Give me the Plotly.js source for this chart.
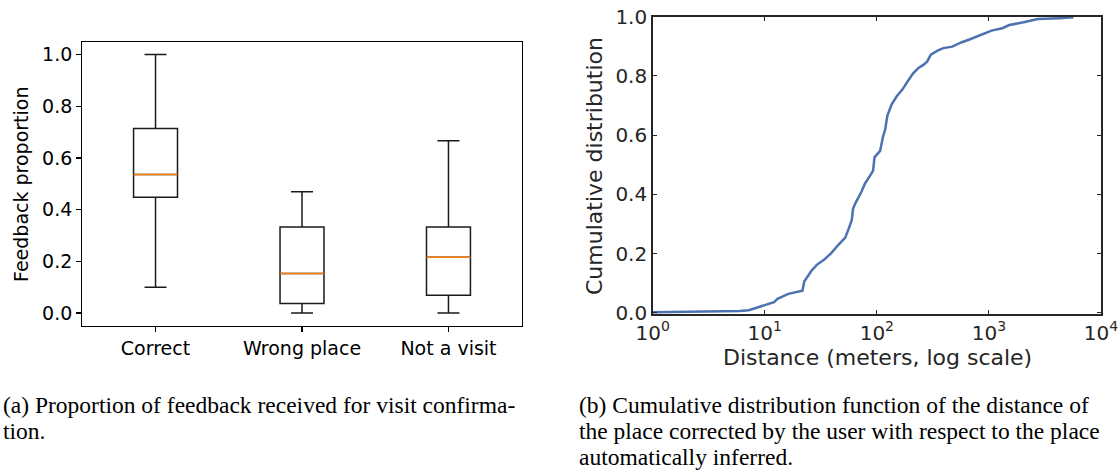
<!DOCTYPE html>
<html>
<head>
<meta charset="utf-8">
<script src="https://cdn.plot.ly/plotly-3.0.1.min.js"></script>
<style>html,body{margin:0;padding:0;background:#fff;}#chart{width:1119px;height:474px;}</style>
</head>
<body>
<div id="chart"></div>
<script>
// ---- Panel (a): box plot data ----
const categories = ['Correct', 'Wrong place', 'Not a visit'];
const lowerWhisker = [0.100, 0.000, 0.000];
const q1 = [0.448, 0.037, 0.069];
const median = [0.536, 0.153, 0.216];
const q3 = [0.714, 0.333, 0.333];
const upperWhisker = [1.000, 0.469, 0.667];
const boxYTicks = [0.0, 0.2, 0.4, 0.6, 0.8, 1.0];

// ---- Panel (b): CDF data ----
const distance = [1.0, 2.5, 4.0, 6.0, 7.2, 8.7, 10, 12.1, 13, 16.2, 21.7, 22.5, 26.1, 29.1, 33.7, 39, 45.2, 52.3, 56.2, 59.7, 61.4, 65.1, 72.7, 78.2, 87.3, 92.6, 95.3, 107, 113, 118.8, 124, 135.6, 151, 169, 188.5, 210, 235, 262, 282, 303, 351.5, 392, 471, 566, 679, 847, 1055, 1314, 1521, 2040, 2734, 4246, 5690];
const cumulative = [0.002, 0.004, 0.005, 0.006, 0.009, 0.019, 0.028, 0.036, 0.047, 0.064, 0.075, 0.106, 0.142, 0.162, 0.179, 0.201, 0.229, 0.254, 0.285, 0.313, 0.352, 0.374, 0.408, 0.436, 0.464, 0.480, 0.525, 0.547, 0.592, 0.620, 0.665, 0.704, 0.732, 0.754, 0.782, 0.808, 0.827, 0.838, 0.849, 0.872, 0.886, 0.894, 0.899, 0.913, 0.924, 0.939, 0.953, 0.961, 0.972, 0.981, 0.992, 0.995, 0.998];
const logTickVals = [1, 10, 100, 1000, 10000];
const logTickText = ['10<sup>0</sup>', '10<sup>1</sup>', '10<sup>2</sup>', '10<sup>3</sup>', '10<sup>4</sup>'];
const cdfYTicks = [0.0, 0.2, 0.4, 0.6, 0.8, 1.0];

// ---- Text ----
const leftYTitle = 'Feedback proportion';
const rightYTitle = 'Cumulative distribution';
const rightXTitle = 'Distance (meters, log scale)';
const captionA = ['(a) Proportion of feedback received for visit confirma-', 'tion.'];
const captionB = ['(b) Cumulative distribution function of the distance of', 'the place corrected by the user with respect to the place', 'automatically inferred.'];

const W = 1119, H = 474;
const px = v => v / W;
const py = v => 1 - v / H;

const traces = [
  {
    type: 'box', x: categories, q1: q1, median: median, q3: q3,
    lowerfence: lowerWhisker, upperfence: upperWhisker,
    xaxis: 'x', yaxis: 'y', width: 0.3, whiskerwidth: 0.5,
    line: {color: '#1a1a1a', width: 1.5}, fillcolor: 'rgba(0,0,0,0)',
    boxpoints: false, showlegend: false, hoverinfo: 'skip'
  },
  {
    // orange median line drawn as a degenerate box
    type: 'box', x: categories, q1: median, median: median, q3: median,
    lowerfence: median, upperfence: median,
    xaxis: 'x', yaxis: 'y', width: 0.3, whiskerwidth: 0,
    line: {color: '#ff7f0e', width: 1.4}, fillcolor: 'rgba(0,0,0,0)',
    boxpoints: false, showlegend: false, hoverinfo: 'skip'
  },
  {
    type: 'scatter', mode: 'lines', x: distance, y: cumulative,
    xaxis: 'x2', yaxis: 'y2',
    line: {color: '#4c72b0', width: 2.5},
    showlegend: false, hoverinfo: 'skip'
  }
];

const leftFont = {family: 'DejaVu Sans', size: 19, color: '#000'};
const rightFont = {family: 'DejaVu Sans', size: 20, color: '#262626'};

const annotations = [
  {text: leftYTitle, xref: 'paper', yref: 'paper', x: px(21), y: py(184), textangle: -90,
   showarrow: false, xanchor: 'center', yanchor: 'middle', font: leftFont},
  {text: rightYTitle, xref: 'paper', yref: 'paper', x: px(595), y: py(166), textangle: -90,
   showarrow: false, xanchor: 'center', yanchor: 'middle', font: {family: 'DejaVu Sans', size: 22, color: '#262626'}},
  {text: rightXTitle, xref: 'paper', yref: 'paper', x: px(877), y: py(357),
   showarrow: false, xanchor: 'center', yanchor: 'middle', font: {family: 'DejaVu Sans', size: 22, color: '#262626'}}
];
const capFont = {family: 'Liberation Serif', size: 23.5, color: '#000'};
captionA.forEach((t, i) => annotations.push({text: t, xref: 'paper', yref: 'paper', x: px(1), y: py(405 + 26 * i),
  showarrow: false, xanchor: 'left', yanchor: 'middle', font: capFont}));
captionB.forEach((t, i) => annotations.push({text: t, xref: 'paper', yref: 'paper', x: px(577), y: py(405 + 26 * i),
  showarrow: false, xanchor: 'left', yanchor: 'middle', font: capFont}));

const layout = {
  width: W, height: H,
  margin: {l: 0, r: 0, t: 0, b: 0},
  paper_bgcolor: '#fff', plot_bgcolor: '#fff',
  boxmode: 'overlay',
  showlegend: false,
  xaxis: {
    domain: [px(82.3), px(521.7)], anchor: 'y', type: 'category', range: [-0.5, 2.5],
    showgrid: false, zeroline: false, showline: true, mirror: true, linecolor: '#000', linewidth: 1.2,
    ticks: 'outside', ticklen: 5, tickwidth: 1.2, tickcolor: '#000', tickfont: leftFont, automargin: false
  },
  yaxis: {
    domain: [py(326), py(41.7)], anchor: 'x', range: [-0.05, 1.05],
    tickmode: 'array', tickvals: boxYTicks, tickformat: '.1f',
    showgrid: false, zeroline: false, showline: true, mirror: true, linecolor: '#000', linewidth: 1.2,
    ticks: 'outside', ticklen: 5, tickwidth: 1.2, tickcolor: '#000', tickfont: leftFont, automargin: false
  },
  xaxis2: {
    domain: [px(652.7), px(1101)], anchor: 'y2', type: 'log', range: [0, 4],
    tickmode: 'array', tickvals: logTickVals, ticktext: logTickText,
    showgrid: false, zeroline: false, showline: true, mirror: 'ticks', linecolor: '#262626', linewidth: 1.5,
    ticks: 'inside', ticklen: 4, tickwidth: 1, tickcolor: '#262626', tickfont: rightFont, automargin: false
  },
  yaxis2: {
    domain: [py(314.3), py(16.7)], anchor: 'x2', range: [-0.005, 1.0],
    tickmode: 'array', tickvals: cdfYTicks, tickformat: '.1f',
    showgrid: false, zeroline: false, showline: true, mirror: 'ticks', linecolor: '#262626', linewidth: 1.5,
    ticks: 'inside', ticklen: 4, tickwidth: 1, tickcolor: '#262626', tickfont: rightFont, automargin: false
  },
  annotations: annotations
};

Plotly.newPlot('chart', traces, layout, {staticPlot: true, displayModeBar: false});
</script>
</body>
</html>
